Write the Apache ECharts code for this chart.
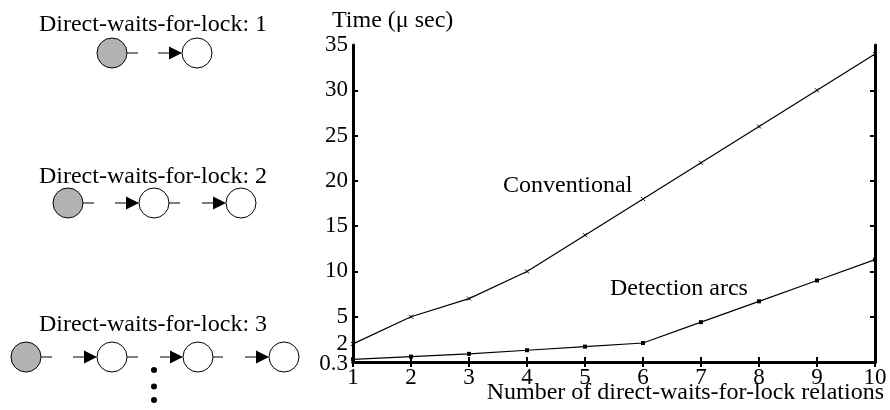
<!DOCTYPE html>
<html>
<head>
<meta charset="utf-8">
<script src="https://cdn.jsdelivr.net/npm/echarts@6/dist/echarts.min.js"></script>
<style>
html,body{margin:0;padding:0;background:#fff;}
#chart{width:890px;height:410px;}
</style>
</head>
<body>
<div id="chart"></div>
<script>
// ---- data ----
var relations = [1, 2, 3, 4, 5, 6, 7, 8, 9, 10];
var conventional = [2, 5, 7, 10, 14, 18, 22, 26, 30, 34];
var detectionArcs = [0.3, 0.6, 0.9, 1.3, 1.7, 2.1, 4.4, 6.7, 9.0, 11.3];
var yLabelValues = [2, 5, 10, 15, 20, 25, 30, 35];
var yBaseLabelValues = [0.3];
var yTickValues = [5, 10, 15, 20, 25, 30];
var seriesNames = ['Conventional', 'Detection arcs'];
var diagramTitles = ['Direct-waits-for-lock: 1', 'Direct-waits-for-lock: 2', 'Direct-waits-for-lock: 3'];

var FONT = '"Liberation Serif", "DejaVu Serif", serif';

function pairs(xs, ys) { return xs.map(function (x, i) { return [x, ys[i]]; }); }

// ---- left schematic (decoration) ----
var g = [];
function circ(cx, cy, fill) {
  g.push({ type: 'circle', shape: { cx: cx, cy: cy, r: 15 }, style: { fill: fill, stroke: '#000', lineWidth: 1 } });
}
function seg(x1, x2, y) {
  g.push({ type: 'line', shape: { x1: x1, y1: y, x2: x2, y2: y }, style: { stroke: '#000', lineWidth: 1 } });
}
function arrow(x1, tip, y) {
  seg(x1, tip - 10, y);
  g.push({ type: 'polygon', shape: { points: [[tip - 13, y - 6.5], [tip, y], [tip - 13, y + 6.5]] }, style: { fill: '#000' } });
}
function title(txt, y) {
  g.push({ type: 'text', x: 153, y: y, style: { text: txt, font: '24px ' + FONT, fill: '#000', align: 'center', verticalAlign: 'middle' } });
}
title(diagramTitles[0], 25);
circ(112, 53, '#b3b3b3'); seg(127, 138, 53); arrow(158, 182, 53); circ(197, 53, '#fff');
title(diagramTitles[1], 177);
circ(68, 203, '#b3b3b3'); seg(83, 94, 203); arrow(115, 139, 203); circ(154, 203, '#fff');
seg(169, 180, 203); arrow(202, 226, 203); circ(241, 203, '#fff');
title(diagramTitles[2], 325);
circ(26, 357, '#b3b3b3'); seg(41, 52, 357); arrow(73, 97, 357); circ(112, 357, '#fff');
seg(127, 138, 357); arrow(160, 183, 357); circ(198, 357, '#fff');
seg(213, 223, 357); arrow(245, 269, 357); circ(284, 357, '#fff');
[370, 386.5, 400].forEach(function (y) {
  g.push({ type: 'circle', shape: { cx: 154, cy: y, r: 3 }, style: { fill: '#000' } });
});
// series annotations
g.push({ type: 'text', x: 503, y: 186, style: { text: seriesNames[0], font: '24px ' + FONT, fill: '#000', align: 'left', verticalAlign: 'middle' } });
g.push({ type: 'text', x: 610, y: 289, style: { text: seriesNames[1], font: '24px ' + FONT, fill: '#000', align: 'left', verticalAlign: 'middle' } });

var labelStyle = { color: '#000', fontFamily: FONT, fontSize: 23 };
var axisLineStyle = { show: true, lineStyle: { color: '#000', width: 3 } };

var chart = echarts.init(document.getElementById('chart'));
chart.setOption({
  animation: false,
  backgroundColor: '#fff',
  title: [
    { text: 'Time (\u03bc sec)', left: 332, top: 9, padding: 0,
      textStyle: { color: '#000', fontFamily: FONT, fontSize: 24, fontWeight: 'normal' } },
    { text: 'Number of direct-waits-for-lock relations', right: 6, top: 381, padding: 0,
      textStyle: { color: '#000', fontFamily: FONT, fontSize: 24, fontWeight: 'normal' } }
  ],
  grid: { left: 353, right: 15, top: 45, bottom: 48, containLabel: false },
  xAxis: [
    { type: 'value', min: 1, max: 10, interval: 1, position: 'bottom',
      axisLine: axisLineStyle,
      axisTick: { show: true, inside: true, length: 5, lineStyle: { color: '#000', width: 2 } },
      axisLabel: Object.assign({ margin: 4, showMinLabel: true, showMaxLabel: true, hideOverlap: false }, labelStyle),
      splitLine: { show: false } },
    { type: 'value', min: 1, max: 10, interval: 1, position: 'top',
      axisLine: axisLineStyle,
      axisTick: { show: true, inside: true, length: 5, lineStyle: { color: '#000', width: 2 } },
      axisLabel: { show: false }, splitLine: { show: false } }
  ],
  yAxis: [
    { type: 'value', min: 0, max: 35, position: 'left',
      axisLine: axisLineStyle,
      axisTick: { show: true, inside: true, length: 5, customValues: yTickValues, lineStyle: { color: '#000', width: 2 } },
      axisLabel: Object.assign({ margin: 5, customValues: yLabelValues, showMinLabel: true, showMaxLabel: true, hideOverlap: false }, labelStyle),
      splitLine: { show: false } },
    { type: 'value', min: 0, max: 35, position: 'right',
      axisLine: axisLineStyle,
      axisTick: { show: true, inside: true, length: 5, customValues: yTickValues, lineStyle: { color: '#000', width: 2 } },
      axisLabel: { show: false }, splitLine: { show: false } },
    { type: 'value', min: 0, max: 35, position: 'left', offset: 0,
      axisLine: { show: false }, axisTick: { show: false }, splitLine: { show: false },
      axisLabel: Object.assign({ margin: 5, customValues: yBaseLabelValues, showMinLabel: true, hideOverlap: false, verticalAlign: 'top', lineHeight: 10 }, labelStyle) }
  ],
  series: [
    { name: seriesNames[0], type: 'line', data: pairs(relations, conventional),
      symbol: 'path://M0,0L10,10M10,0L0,10', symbolSize: 4,
      itemStyle: { color: 'none', borderColor: '#000', borderWidth: 1 },
      lineStyle: { color: '#000', width: 1.2 } },
    { name: seriesNames[1], type: 'line', data: pairs(relations, detectionArcs),
      symbol: 'rect', symbolSize: 4,
      itemStyle: { color: '#000' },
      lineStyle: { color: '#000', width: 1.2 } }
  ],
  graphic: g
});
</script>
</body>
</html>
